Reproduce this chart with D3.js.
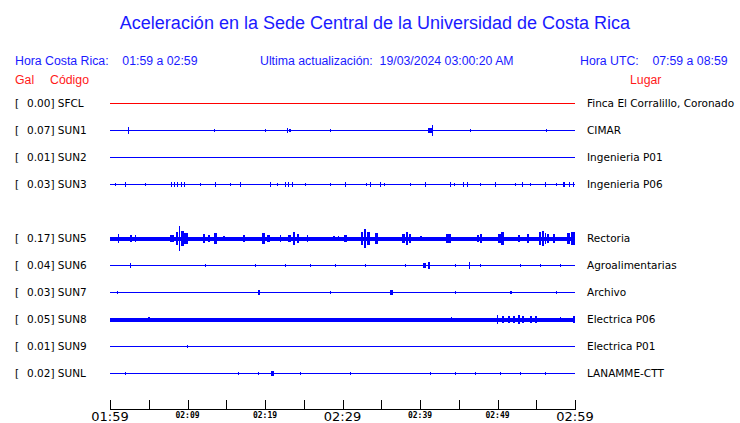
<!DOCTYPE html>
<html><head><meta charset="utf-8">
<script src="https://cdn.jsdelivr.net/npm/d3@7"></script>
<style>body{margin:0;background:#fff}svg{display:block}</style>
</head><body>
<script>
// ---------- DATA ----------
const title = "Aceleración en la Sede Central de la Universidad de Costa Rica";
const headerLeft = "Hora Costa Rica:    01:59 a 02:59";
const headerMid = "Ultima actualización:  19/03/2024 03:00:20 AM";
const headerRight = "Hora UTC:    07:59 a 08:59";
const codes = ["SFCL","SUN1","SUN2","SUN3","SUN4","SUN5","SUN6","SUN7","SUN8","SUN9","SUNL"];
const present = [true,true,true,true,false,true,true,true,true,true,true];
const pga = ["0.00","0.07","0.01","0.03","","0.17","0.04","0.03","0.05","0.01","0.02"];
const places = ["Finca El Corralillo, Coronado","CIMAR","Ingenieria P01","Ingenieria P06","","Rectoria","Agroalimentarias","Archivo","Electrica P06","Electrica P01","LANAMME-CTT"];
// baseline noise half-amplitude (relative counts)
const baseNoise = [0,0,0,0,0,1.5,0,0,1.5,0,0];
// events: [minute after 01:59, half-amplitude, duration(min)]
const ev_SFCL = [];
const ev_SUN1 = [[2.3,3,0.15],[13.4,1,0.1],[20.0,1,0.1],[22.8,2,0.2],[23.1,1,0.2],[28.4,1,0.1],[41.0,2,0.5],[41.5,5,0.15],[46.5,1,0.1],[56.3,1,0.1]];
const ev_SUN2 = [];
const ev_SUN3 = [[0.6,1,0.1],[1.9,2,0.1],[4.5,1,0.1],[7.9,2,0.1],[8.3,2,0.15],[8.7,2,0.1],[9.1,2,0.15],[9.5,2,0.1],[11.6,1,0.1],[13.5,2,0.1],[15.5,1,0.1],[16.8,2,0.1],[20.6,2,0.1],[21.6,1,0.1],[22.6,2,0.1],[23.0,2,0.15],[23.5,2,0.1],[25.1,1,0.1],[28.4,1,0.1],[30.3,2,0.1],[33.0,1,0.1],[33.5,2,0.1],[34.8,2,0.15],[35.3,1,0.1],[38.7,1,0.1],[40.6,2,0.1],[43.9,2,0.1],[44.4,1,0.1],[45.5,2,0.1],[46.0,2,0.1],[47.7,1,0.1],[49.7,2,0.1],[52.3,1,0.1],[53.1,2,0.1],[54.2,1,0.1],[56.1,2,0.1],[57.5,1,0.1],[58.5,2,0.15],[59.2,2,0.15],[59.7,2,0.15]];
const ev_SUN4 = [];
const ev_SUN5 = [[1.0,4,0.15],[2.6,3,0.3],[3.2,3,0.2],[7.8,3,0.5],[8.5,6,0.3],[8.9,12,0.15],[9.2,7,0.3],[9.6,5,0.4],[12.0,4,0.3],[12.6,3,0.3],[13.4,5,0.4],[14.6,2,0.2],[17.2,3,0.2],[19.6,5,0.4],[20.3,3,0.3],[21.9,3,0.2],[23.0,3,0.3],[23.6,6,0.3],[24.1,4,0.3],[25.4,3,0.2],[28.8,2,0.2],[29.4,2,0.2],[30.2,3,0.4],[32.4,6,0.3],[32.8,9,0.2],[33.2,6,0.3],[34.2,5,0.4],[37.7,4,0.3],[38.2,6,0.3],[38.6,4,0.3],[40.0,2,0.2],[43.4,4,0.6],[47.3,3,0.3],[47.7,4,0.3],[50.1,4,0.3],[50.5,6,0.3],[52.6,3,0.3],[53.8,4,0.3],[55.3,6,0.3],[55.7,7,0.3],[56.1,5,0.2],[56.4,4,0.2],[57.1,4,0.3],[59.0,5,0.3],[59.5,6,0.5]];
const ev_SUN6 = [[2.6,2,0.15],[12.3,1,0.1],[18.7,1,0.1],[22.6,1,0.1],[25.8,1,0.1],[29.0,1,0.1],[32.9,1,0.1],[38.1,1,0.1],[40.4,2,0.4],[41.0,3,0.3],[44.5,1,0.1],[46.3,3,0.15],[47.7,1,0.2],[52.9,1,0.1],[55.5,1,0.1],[58.1,1,0.1]];
const ev_SUN7 = [[0.9,1,0.1],[19.1,2,0.2],[28.4,1,0.1],[36.1,2,0.4],[44.5,1,0.1],[51.6,1,0.3],[57.5,1,0.1]];
const ev_SUN8 = [[4.9,2,0.2],[8.3,1,0.1],[15.9,1,0.1],[24.1,1,0.1],[34.4,1,0.1],[44.0,2,0.1],[49.9,4,0.2],[50.6,3,0.3],[51.3,3,0.3],[52.0,3,0.3],[52.6,4,0.3],[53.2,3,0.2],[54.2,3,0.3],[54.8,3,0.3],[58.1,2,0.1],[59.8,3,0.15]];
const ev_SUN9 = [[9.9,1,0.15]];
const ev_SUNL = [[1.9,1,0.1],[16.5,1,0.1],[19.1,1,0.1],[20.8,2,0.3],[24.5,1,0.1],[31.0,1,0.1],[41.3,1,0.1],[44.5,1,0.1],[47.1,1,0.1],[50.3,1,0.1],[52.9,1,0.1],[56.1,1,0.1]];
const events = [ev_SFCL,ev_SUN1,ev_SUN2,ev_SUN3,ev_SUN4,ev_SUN5,ev_SUN6,ev_SUN7,ev_SUN8,ev_SUN9,ev_SUNL];
const traceColors = ["#ff0000","#0000ff","#0000ff","#0000ff","#0000ff","#0000ff","#0000ff","#0000ff","#0000ff","#0000ff","#0000ff"];
const tickMinutes = d3.range(0, 61, 5);
const majorLabels = {0:"01:59",30:"02:29",60:"02:59"};
const minorLabels = {10:"02:09",20:"02:19",40:"02:39",50:"02:49"};

// ---------- DRAW ----------
const W=740,H=423;
const svg=d3.select("body").append("svg").attr("width",W).attr("height",H).attr("shape-rendering","crispEdges");
const blue="#1a1aff", red="#ff1a1a";
svg.append("text").attr("x",375).attr("y",29).attr("text-anchor","middle")
  .attr("font-family","Liberation Sans, Arial, sans-serif").attr("font-size",18).attr("fill",blue).text(title);
const hdr = svg.append("g").attr("font-family","Liberation Sans, Arial, sans-serif").attr("font-size",12.3).attr("fill",blue);
hdr.append("text").attr("x",15).attr("y",65).attr("xml:space","preserve").style("white-space","pre").text(headerLeft);
hdr.append("text").attr("x",260).attr("y",65).attr("xml:space","preserve").style("white-space","pre").text(headerMid);
hdr.append("text").attr("x",580).attr("y",65).attr("xml:space","preserve").style("white-space","pre").text(headerRight);
const lab = svg.append("g").attr("font-family","Liberation Sans, Arial, sans-serif").attr("font-size",12.3).attr("fill",red);
lab.append("text").attr("x",15).attr("y",84).text("Gal");
lab.append("text").attr("x",50).attr("y",84).text("Código");
lab.append("text").attr("x",630).attr("y",84).text("Lugar");

const x = d3.scaleLinear().domain([0,60]).range([110,575]);
const y = d3.scaleBand().domain(codes).range([89,386]);
const amp = d3.scaleLinear().domain([0,1]).range([0,1]);

codes.forEach((c,i)=>{
  if(!present[i]) return;
  const cy = Math.round(y(c)+y.bandwidth()/2);
  const g = svg.append("g");
  const col = traceColors[i];
  const bn = baseNoise[i];
  g.append("rect").attr("x",x(0)).attr("width",x(60)-x(0)).attr("y",cy-amp(bn)).attr("height",2*amp(bn)+1).attr("fill",col);
  g.selectAll("rect.ev").data(events[i]).join("rect").attr("class","ev")
    .attr("x",d=>x(d[0]))
    .attr("width",d=>Math.max(1,x(d[0]+d[2])-x(d[0])))
    .attr("y",d=>cy-amp(d[1]))
    .attr("height",d=>2*amp(d[1])+1)
    .attr("fill",col);
  const t = svg.append("g").attr("font-family","DejaVu Sans, sans-serif").attr("font-size",10.5).attr("fill","#000").attr("shape-rendering","auto");
  t.append("text").attr("x",15).attr("y",cy+4).text("[");
  t.append("text").attr("x",27).attr("y",cy+4).text(pga[i]+"] "+c);
  t.append("text").attr("x",587).attr("y",cy+4).text(places[i]);
});

// axis
const ax = svg.append("g");
ax.append("line").attr("x1",x(0)).attr("x2",x(60)+1).attr("y1",409.5).attr("y2",409.5).attr("stroke","#000");
ax.selectAll("line.t").data(tickMinutes).join("line").attr("class","t")
  .attr("x1",d=>Math.round(x(d))+0.5).attr("x2",d=>Math.round(x(d))+0.5).attr("y1",400).attr("y2",409.5).attr("stroke","#000");
ax.selectAll("text.maj").data(Object.keys(majorLabels).map(Number)).join("text").attr("class","maj")
  .attr("x",d=>x(d)).attr("y",421).attr("text-anchor","middle")
  .attr("font-family","DejaVu Sans, sans-serif").attr("font-size",13).text(d=>majorLabels[d]);
ax.selectAll("text.min").data(Object.keys(minorLabels).map(Number)).join("text").attr("class","min")
  .attr("x",d=>x(d)).attr("y",418).attr("text-anchor","middle")
  .attr("font-family","DejaVu Sans Mono, monospace").attr("font-weight","bold").attr("font-size",8).text(d=>minorLabels[d]);
</script>
</body></html>
